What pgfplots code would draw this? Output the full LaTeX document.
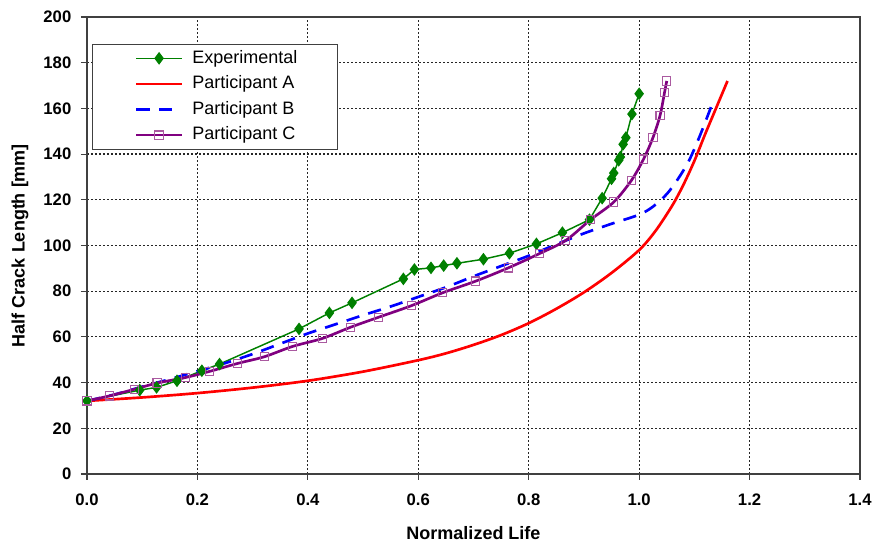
\documentclass[border=0pt]{standalone}
\usepackage{fontspec}
\setmainfont{Liberation Sans}
\usepackage{pgfplots}
\pgfplotsset{compat=1.18}
\definecolor{expgreen}{RGB}{0,128,0}
\definecolor{cpurple}{RGB}{128,0,128}
\definecolor{cmauve}{RGB}{170,90,160}
\begin{document}
\begin{tikzpicture}
\useasboundingbox (-65.25pt,-51pt) rectangle (593.25pt,355.5pt);
\begin{axis}[
  name=ax, at={(0,0)}, anchor=south west,
  scale only axis, width=579.75pt, height=342.75pt,
  xmin=0, xmax=1.4, ymin=0, ymax=200,
  xtick={0,0.2,0.4,0.6,0.8,1.0,1.2,1.4},
  ytick={0,20,40,60,80,100,120,140,160,180,200},
  grid=major,
  grid style={black!85, dash pattern=on 1.4pt off 1.6pt, line width=0.9pt},
  axis line style={black!75, line width=0.8pt},
  tick style={black!75, line width=0.8pt},
  tick align=outside, tick pos=left, major tick length=4.5pt,
  /pgf/number format/assume math mode=true,
  xticklabel style={/pgf/number format/fixed, /pgf/number format/fixed zerofill, /pgf/number format/precision=1, font=\bfseries\fontsize{12.5}{14}\selectfont, yshift=-6.75pt},
  yticklabel style={font=\bfseries\fontsize{12.5}{14}\selectfont, xshift=-3.75pt},
  xlabel={Normalized Life},
  ylabel={Half Crack Length [mm]},
  label style={font=\bfseries\fontsize{13.5}{15}\selectfont},
  xlabel style={at={(axis description cs:0.5,-0.129)}, anchor=center},
  ylabel style={at={(axis description cs:-0.0867,0.5)}, anchor=center},
  legend style={at={(0.0065,0.941)}, anchor=north west, draw=black!75, line width=0.6pt,
    font=\fontsize{13.5}{15}\selectfont, inner xsep=28pt, inner ysep=4pt,
    row sep=6.2pt, nodes={inner ysep=0pt, text height=10pt, text depth=3pt},
    /tikz/every odd column/.append style={column sep=5pt}},
  legend cell align=left,
  legend image code/.code={\path (0pt,0pt); \draw[mark repeat=2,mark phase=2] plot coordinates {(4pt,0pt) (21pt,0pt) (38pt,0pt)};},
]
\addplot[expgreen, line width=1.1pt, mark=diamond*, mark size=3.9pt, mark options={fill=expgreen, draw=expgreen, solid}] coordinates {
(0,32) (0.0955,36.7) (0.126,37.9) (0.163,40.8) (0.208,45.2) (0.240,48.1) (0.384,63.5) (0.439,70.5) (0.480,74.9) (0.573,85.4) (0.593,89.5) (0.623,90.2) (0.646,91.2) (0.670,92.2) (0.718,94.0) (0.765,96.6) (0.814,100.7) (0.861,105.6) (0.910,111.3) (0.933,120.7) (0.950,129.2) (0.954,131.7) (0.963,137.3) (0.966,138.7) (0.971,144.3) (0.976,147.2) (0.987,157.5) (1.0,166.4)
};
\addlegendentry{Experimental}
\addplot[red, line width=2pt, smooth, mark=none] coordinates {
(0,32) (0.1,33.5) (0.2,35.4) (0.3,37.8) (0.4,40.8) (0.5,44.8) (0.6,49.8) (0.65,52.8) (0.7,56.5) (0.75,60.8) (0.8,66) (0.85,72.3) (0.9,79.5) (0.95,88) (1.0,98) (1.03,106.5) (1.06,117.5) (1.08,126.5) (1.1,137) (1.12,149) (1.14,160.5) (1.16,172)
};
\addlegendentry{Participant A}
\addplot[blue, line width=2pt, dash pattern=on 10pt off 7pt, smooth, mark=none] coordinates {
(0,32) (0.05,34.8) (0.1,38.2) (0.15,41.5) (0.2,45) (0.25,48.5) (0.3,52.5) (0.35,57) (0.4,61.5) (0.45,65.5) (0.5,69.5) (0.55,73.3) (0.6,77.5) (0.65,81.7) (0.7,86.5) (0.75,91) (0.8,95.5) (0.85,100.5) (0.9,105.3) (0.95,109.5) (1.0,113.5) (1.025,117) (1.05,122.5) (1.07,129) (1.09,137) (1.11,148) (1.134,163)
};
\addlegendentry{Participant B}
\addplot[cpurple, line width=2pt, smooth, mark=square, mark size=3.1pt, mark options={draw=cmauve, fill=none, line width=0.8pt, solid}] coordinates {
(0,32) (0.041,34.2) (0.086,37.1) (0.127,39.8) (0.178,42.2) (0.222,44.9) (0.273,48.4) (0.321,51.3) (0.372,55.8) (0.426,59.3) (0.477,64.2) (0.528,68.6) (0.588,73.7) (0.644,79.3) (0.704,84.4) (0.763,90.2) (0.819,96.4) (0.867,102.2) (0.912,111.3) (0.954,119) (0.986,128.5) (1.008,137.8) (1.025,147.2) (1.038,157) (1.046,167) (1.05,172)
};
\addlegendentry{Participant C}
\end{axis}
\end{tikzpicture}
\end{document}
